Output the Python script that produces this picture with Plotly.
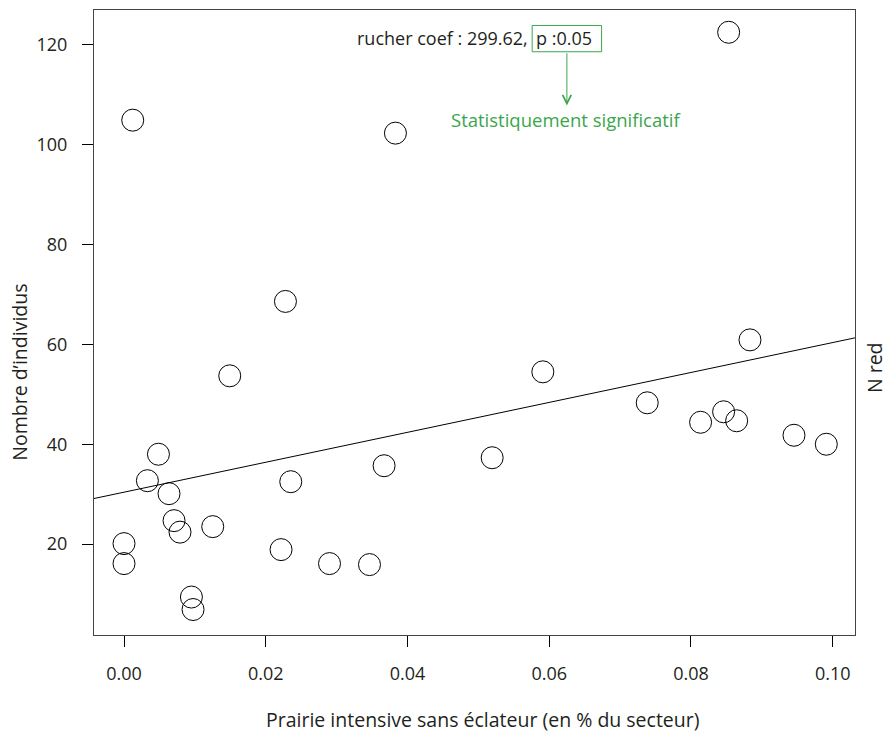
import plotly.graph_objects as go

# ---- data ----
x_vals = [0.00123, 0.0383, 0.02278, 0.08532, 0.08833, 0.01492, 0.00486, 0.0033,
          0.00635, 0.00706, 0.0079, 0.01252, 0.0, 0.0, 0.00951, 0.00974,
          0.02353, 0.02216, 0.029, 0.03464, 0.0367, 0.0591, 0.05195, 0.07383,
          0.08136, 0.08461, 0.08645, 0.09454, 0.0991]
y_vals = [104.9, 102.3, 68.6, 122.5, 60.9, 53.7, 38.0, 32.7,
          30.1, 24.7, 22.4, 23.5, 20.1, 16.1, 9.4, 6.9,
          32.5, 18.9, 16.1, 15.9, 35.7, 54.5, 37.3, 48.3,
          44.4, 46.5, 44.7, 41.8, 40.0]
intercept = 30.4
slope = 299.62
p_value = 0.05
x_ticks = [0.00, 0.02, 0.04, 0.06, 0.08, 0.10]
x_tick_labels = ["0.00", "0.02", "0.04", "0.06", "0.08", "0.10"]
y_ticks = [20, 40, 60, 80, 100, 120]
y_tick_labels = ["20", "40", "60", "80", "100", "120"]

x_range = [-0.004235, 0.10315]
y_range = [1.8, 126.96]

FONT = "Open Sans"
TXT = "#231f20"
GREEN = "#3aa64c"
FS = 18
FS_TITLE = 19.5

fig = go.Figure()
fig.add_trace(go.Scatter(
    x=x_vals, y=y_vals, mode="markers",
    marker=dict(symbol="circle-open", size=22, color="black", line=dict(width=1, color="black")),
    showlegend=False, hoverinfo="x+y"))

line_x = [x_range[0], x_range[1]]
line_y = [intercept + slope * v for v in line_x]
fig.add_trace(go.Scatter(x=line_x, y=line_y, mode="lines",
                         line=dict(color="black", width=1), showlegend=False))

# plot-area geometry (pixels) used to place outside texts
L, R, T, B = 94.3, 855.0, 9.5, 635.3
def px(xp):
    return (xp - L) / (R - L)
def py(yp):
    return (B - yp) / (B - T)

def dx(xp):
    return x_range[0] + (xp - L) / (R - L) * (x_range[1] - x_range[0])
def dy(yp):
    return y_range[0] + (B - yp) / (B - T) * (y_range[1] - y_range[0])

annotations = [
    dict(text=f"rucher coef : {slope:.2f},", x=dx(530), y=dy(37.7), xref="x", yref="y",
         xanchor="right", yanchor="middle", showarrow=False,
         font=dict(family=FONT, size=FS, color=TXT)),
    dict(text=f"p :{p_value:.2f}", x=dx(564), y=dy(37.7), xref="x", yref="y",
         xanchor="center", yanchor="middle", showarrow=False,
         font=dict(family=FONT, size=FS, color=TXT)),
    dict(text="", x=dx(567), y=dy(105), xref="x", yref="y",
         ax=dx(567), ay=dy(51.3), axref="x", ayref="y",
         showarrow=True, arrowhead=5, arrowsize=1.7, arrowwidth=1, arrowcolor=GREEN,
         standoff=0, startstandoff=0),
    dict(text="Statistiquement significatif", x=dx(567), y=dy(119.5), xref="x", yref="y",
         xanchor="center", yanchor="middle", showarrow=False,
         font=dict(family=FONT, size=18.5, color=GREEN)),
    dict(text="Prairie intensive sans éclateur (en % du secteur)", x=px(483), y=py(720),
         xref="paper", yref="paper", xanchor="center", yanchor="middle", showarrow=False,
         font=dict(family=FONT, size=FS_TITLE, color=TXT)),
    dict(text="Nombre d’individus", x=px(19), y=py(372), textangle=-90,
         xref="paper", yref="paper", xanchor="center", yanchor="middle", showarrow=False,
         font=dict(family=FONT, size=FS_TITLE, color=TXT)),
    dict(text="N red", x=px(874), y=py(368), textangle=-90,
         xref="paper", yref="paper", xanchor="center", yanchor="middle", showarrow=False,
         font=dict(family=FONT, size=FS_TITLE, color=TXT)),
]

shapes = [
    dict(type="rect", xref="x", yref="y", x0=dx(532.3), x1=dx(601.7), y0=dy(51.3), y1=dy(25),
         line=dict(color=GREEN, width=1), fillcolor="rgba(0,0,0,0)"),
]

fig.update_layout(
    width=890, height=734,
    margin=dict(l=L, r=890 - R, t=T, b=734 - B, autoexpand=False),
    paper_bgcolor="white", plot_bgcolor="white",
    font=dict(family=FONT, size=FS, color=TXT),
    annotations=annotations, shapes=shapes, showlegend=False,
    xaxis=dict(range=x_range, tickvals=x_ticks, ticktext=x_tick_labels,
               showgrid=False, zeroline=False, showline=True, mirror=True,
               linecolor="#444444", linewidth=1, ticks="outside", ticklen=11,
               tickcolor="black", tickwidth=1, ticklabelstandoff=11,
               tickfont=dict(family=FONT, size=FS, color=TXT)),
    yaxis=dict(range=y_range, tickvals=y_ticks, ticktext=y_tick_labels,
               showgrid=False, zeroline=False, showline=True, mirror=True,
               linecolor="#444444", linewidth=1, ticks="outside", ticklen=11,
               tickcolor="black", tickwidth=1, ticklabelstandoff=11,
               tickfont=dict(family=FONT, size=FS, color=TXT)),
)

fig.write_html("out.html", config={"displayModeBar": False},
               post_script="document.body.style.margin='0';")
